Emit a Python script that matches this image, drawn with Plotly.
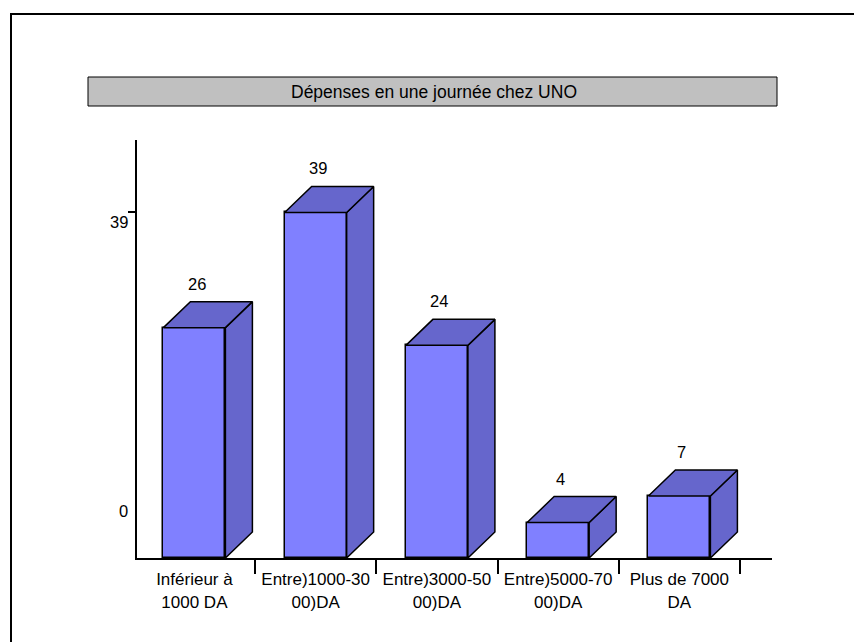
import plotly.graph_objects as go

# Data: daily spending at UNO (respondent counts)
categories = ["Inférieur à<br>1000 DA", "Entre)1000-30<br>00)DA", "Entre)3000-50<br>00)DA",
              "Entre)5000-70<br>00)DA", "Plus de 7000<br>DA"]
counts = [26, 39, 24, 4, 7]
y_tick_labels = ["0", "39"]
title_text = "Dépenses en une journée chez UNO"

# Figure geometry (pixels)
W, H = 854, 642
L, R, T, B = 137, 854 - 772, 140, 642 - 558
plot_w, plot_h = W - L - R, H - T - B
px_per_cat = 121.25
px_per_unit = 8.86
x_lo = -(194.4 - L) / px_per_cat
x_hi = x_lo + plot_w / px_per_cat
y_hi = plot_h / px_per_unit

bar_w = 62 / px_per_cat
dx = 27 / px_per_cat          # 3-D depth offset, x units
dy = 26 / px_per_unit         # 3-D depth offset, y units

FRONT = "#8080FF"
SIDE = "#6666CC"
FONT = "Liberation Sans, Arial, sans-serif"


def px_to_paper_x(px):
    return (px - L) / plot_w


def px_to_paper_y(py):
    return (H - B - py) / plot_h


xs = list(range(len(counts)))

fig = go.Figure()

# Front faces
fig.add_trace(go.Bar(
    x=xs, y=counts, width=bar_w,
    marker=dict(color=FRONT, line=dict(color="black", width=1.5)),
    hoverinfo="skip", showlegend=False,
))

# Side and top faces of each block
side_x, side_y, top_x, top_y = [], [], [], []
for i, v in zip(xs, counts):
    xl, xr = i - bar_w / 2, i + bar_w / 2
    side_x += [xr, xr + dx, xr + dx, xr, xr, None]
    side_y += [0, dy, v + dy, v, 0, None]
    top_x += [xl, xl + dx, xr + dx, xr, xl, None]
    top_y += [v, v + dy, v + dy, v, v, None]

for px_, py_ in ((side_x, side_y), (top_x, top_y)):
    fig.add_trace(go.Scatter(
        x=px_, y=py_, mode="lines", fill="toself", fillcolor=SIDE,
        line=dict(color="black", width=1.5), hoverinfo="skip", showlegend=False,
        cliponaxis=False,
    ))

# Value labels above each block
for i, v in zip(xs, counts):
    fig.add_annotation(x=i + 0.02, y=v + dy, yshift=18, text=str(v), showarrow=False,
                       yanchor="middle",
                       font=dict(family=FONT, size=16.5, color="black"))

# Y-axis labels
fig.add_annotation(x=px_to_paper_x(130), xref="paper", y=0, yref="y", yshift=47,
                   xanchor="right", yanchor="middle", text=y_tick_labels[0], showarrow=False,
                   font=dict(family=FONT, size=16.5, color="black"))
fig.add_annotation(x=px_to_paper_x(130), xref="paper", y=39, yref="y", yshift=-10,
                   xanchor="right", yanchor="middle", text=y_tick_labels[1], showarrow=False,
                   font=dict(family=FONT, size=16.5, color="black"))

# Title box
fig.add_shape(type="rect", xref="paper", yref="paper",
              x0=px_to_paper_x(88), x1=px_to_paper_x(777),
              y0=px_to_paper_y(106), y1=px_to_paper_y(77),
              fillcolor="#C0C0C0", line=dict(color="black", width=1))
fig.add_annotation(x=px_to_paper_x(434), y=px_to_paper_y(92), xref="paper", yref="paper",
                   xanchor="center", yanchor="middle",
                   text=title_text, showarrow=False,
                   font=dict(family=FONT, size=17.5, color="black"))

# Outer frame (left and top edges)
fig.add_shape(type="path", xref="paper", yref="paper",
              path="M {} {} L {} {} L {} {}".format(
                  px_to_paper_x(11), px_to_paper_y(660),
                  px_to_paper_x(11), px_to_paper_y(14),
                  px_to_paper_x(870), px_to_paper_y(14)),
              line=dict(color="black", width=2))

fig.update_layout(
    width=W, height=H,
    margin=dict(l=L, r=R, t=T, b=B, pad=0),
    paper_bgcolor="white", plot_bgcolor="white",
    bargap=0,
    xaxis=dict(
        range=[x_lo, x_hi], showgrid=False, zeroline=False,
        showline=True, linecolor="black", linewidth=2,
        tickmode="array", tickvals=xs, ticktext=categories, ticks="",
        ticklabelstandoff=5,
        tickfont=dict(family=FONT, size=17, color="black"),
        minor=dict(tickmode="array", tickvals=[i + 0.5 for i in xs],
                   ticks="outside", ticklen=14, tickcolor="black", tickwidth=1.5),
    ),
    yaxis=dict(
        range=[0, y_hi], showgrid=False, zeroline=False,
        showline=True, linecolor="black", linewidth=1.5,
        tickmode="array", tickvals=[39], ticks="outside", ticklen=7,
        tickcolor="black", tickwidth=1.5, showticklabels=False,
    ),
)

fig.write_html("out.html")
